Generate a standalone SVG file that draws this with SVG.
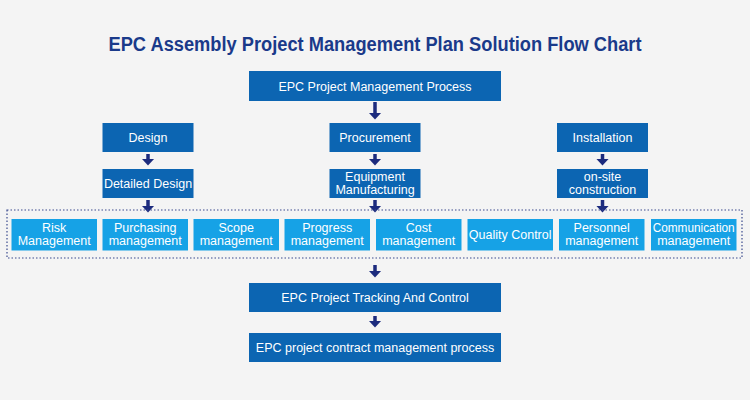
<svg xmlns="http://www.w3.org/2000/svg" width="750" height="400" viewBox="0 0 750 400">
<defs>
<style>
.bg{fill:#f4f4f4}
.dk{fill:#0c65b2}
.lt{fill:#16a2e6}
.t{font-family:"Liberation Sans",Arial,sans-serif;font-size:12.5px;fill:#ffffff;text-anchor:middle}
.title{font-family:"Liberation Sans",Arial,sans-serif;font-size:20px;font-weight:bold;fill:#1a3a8a;text-anchor:middle}
.arr{stroke:#1c2b7e;stroke-width:3.5;fill:none;marker-end:url(#ah)}
.dot{fill:none;stroke:#3a4a8e;stroke-width:1.2;stroke-dasharray:1.5 2}
</style>
<marker id="ah" markerUnits="userSpaceOnUse" markerWidth="7" markerHeight="13" refX="0.5" refY="6.5" orient="auto" viewBox="0 0 7 13">
<path d="M0,0 L7,6.5 L0,13 Z" fill="#1c2b7e"/>
</marker>
</defs>
<rect class="bg" x="0" y="0" width="750" height="400"/>
<text class="title" x="375" y="51" textLength="533" lengthAdjust="spacingAndGlyphs">EPC Assembly Project Management Plan Solution Flow Chart</text>

<g id="connectors">
<line class="arr" x1="375" y1="102" x2="375" y2="113"/>
<line class="arr" x1="148" y1="154" x2="148" y2="159"/>
<line class="arr" x1="375" y1="154" x2="375" y2="159"/>
<line class="arr" x1="602.5" y1="154" x2="602.5" y2="159"/>
<line class="arr" x1="148" y1="200" x2="148" y2="206"/>
<line class="arr" x1="375" y1="200" x2="375" y2="206"/>
<line class="arr" x1="602.5" y1="200" x2="602.5" y2="206"/>
<line class="arr" x1="375" y1="265" x2="375" y2="271"/>
<line class="arr" x1="375" y1="316" x2="375" y2="321"/>
</g>

<g id="n-top"><rect class="dk" x="249" y="71" width="252" height="30"/><text class="t" x="375" y="90.5">EPC Project Management Process</text></g>
<g id="n-design"><rect class="dk" x="102.5" y="123" width="91" height="29"/><text class="t" x="148" y="142">Design</text></g>
<g id="n-detailed"><rect class="dk" x="102.5" y="169" width="91" height="29"/><text class="t" x="148" y="188">Detailed Design</text></g>
<g id="n-procurement"><rect class="dk" x="329.5" y="123" width="91" height="29"/><text class="t" x="375" y="142">Procurement</text></g>
<g id="n-equipment"><rect class="dk" x="329.5" y="169" width="91" height="29"/><text class="t" x="375" y="181">Equipment</text><text class="t" x="375" y="194">Manufacturing</text></g>
<g id="n-installation"><rect class="dk" x="557" y="123" width="91" height="29"/><text class="t" x="602.5" y="142">Installation</text></g>
<g id="n-onsite"><rect class="dk" x="557" y="169" width="91" height="29"/><text class="t" x="602.5" y="181">on-site</text><text class="t" x="602.5" y="194">construction</text></g>

<g id="n-group"><rect class="dot" x="7" y="210" width="735" height="48"/></g>
<g id="n-risk"><rect class="lt" x="11.5" y="219" width="85.5" height="31.5"/><text class="t" x="54.2" y="232">Risk</text><text class="t" x="54.2" y="245">Management</text></g>
<g id="n-purchasing"><rect class="lt" x="102.5" y="219" width="85.5" height="31.5"/><text class="t" x="145.2" y="232">Purchasing</text><text class="t" x="145.2" y="245">management</text></g>
<g id="n-scope"><rect class="lt" x="193.5" y="219" width="85.5" height="31.5"/><text class="t" x="236.2" y="232">Scope</text><text class="t" x="236.2" y="245">management</text></g>
<g id="n-progress"><rect class="lt" x="284.5" y="219" width="85.5" height="31.5"/><text class="t" x="327.2" y="232">Progress</text><text class="t" x="327.2" y="245">management</text></g>
<g id="n-cost"><rect class="lt" x="376" y="219" width="85.5" height="31.5"/><text class="t" x="418.7" y="232">Cost</text><text class="t" x="418.7" y="245">management</text></g>
<g id="n-quality"><rect class="lt" x="467.5" y="219" width="85.5" height="31.5"/><text class="t" x="510.2" y="239">Quality Control</text></g>
<g id="n-personnel"><rect class="lt" x="559" y="219" width="85.5" height="31.5"/><text class="t" x="601.7" y="232">Personnel</text><text class="t" x="601.7" y="245">management</text></g>
<g id="n-communication"><rect class="lt" x="651" y="219" width="85.5" height="31.5"/><text class="t" x="693.7" y="232" textLength="82" lengthAdjust="spacingAndGlyphs">Communication</text><text class="t" x="693.7" y="245">management</text></g>

<g id="n-tracking"><rect class="dk" x="249" y="283" width="252" height="29"/><text class="t" x="375" y="302">EPC Project Tracking And Control</text></g>
<g id="n-contract"><rect class="dk" x="249" y="333" width="252" height="29"/><text class="t" x="375" y="352">EPC project contract management process</text></g>
</svg>
